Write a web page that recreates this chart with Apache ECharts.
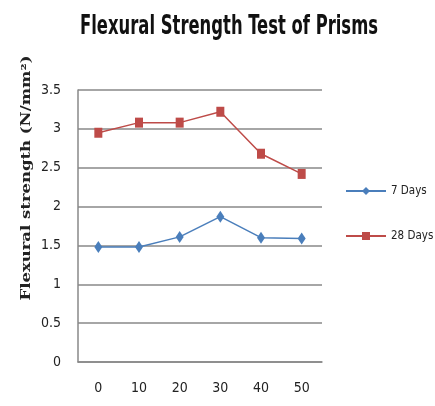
<!DOCTYPE html>
<html><head><meta charset="utf-8">
<script src="https://cdn.jsdelivr.net/npm/echarts@6/dist/echarts.min.js"></script>
<style>html,body{margin:0;padding:0;background:#fff}#c{width:435px;height:406px}</style>
</head><body><div id="c"></div>
<script>
const categories = ['0','10','20','30','40','50'];
const days7 = [1.48, 1.48, 1.61, 1.87, 1.60, 1.59];
const days28 = [2.95, 3.08, 3.08, 3.22, 2.68, 2.42];
const seriesNames = ['7 Days','28 Days'];
const titleText = 'Flexural Strength Test of Prisms';
const yAxisTitle = 'Flexural strength (N/mm²)';

const narrow = '"DejaVu Sans Condensed", "Liberation Sans Narrow", sans-serif';
const titleFont = 'bold 26px "DejaVu Sans Condensed", "Liberation Sans Narrow", sans-serif';
const yTitleFont = 'bold 12px "DejaVu Serif", serif';
const ctx = document.createElement('canvas').getContext('2d');
function w(font, txt){ ctx.font = font; return ctx.measureText(txt).width; }
const titleScale = 298 / w(titleFont, titleText);
const yTitleScale = 245 / w(yTitleFont, yAxisTitle);

const chart = echarts.init(document.getElementById('c'));
chart.setOption({
  animation: false,
  graphic: [{
    type: 'text', x: 229, y: 27, scaleX: titleScale, scaleY: 1,
    style: {text: titleText, font: titleFont, fill: '#111', textAlign: 'center', textVerticalAlign: 'middle'}
  },{
    type: 'text', x: 27, y: 178, rotation: Math.PI/2, scaleX: yTitleScale,
    style: {text: yAxisTitle, font: yTitleFont, fill: '#222', textAlign: 'center', textVerticalAlign: 'middle'}
  }],
  legend: {
    orient: 'vertical', left: 345, top: 185, itemGap: 33, padding: 0,
    itemWidth: 40, itemHeight: 10,
    textStyle: {fontFamily: narrow, fontSize: 11.5, color: '#222'},
    data: seriesNames
  },
  grid: {left: 78, right: 113, top: 90, bottom: 44},
  xAxis: {
    type: 'category', data: categories, boundaryGap: true,
    axisLine: {lineStyle: {color: '#888', width: 1.5}},
    axisTick: {show: false},
    axisLabel: {margin: 19, fontFamily: narrow, fontSize: 14, color: '#222'}
  },
  yAxis: {
    type: 'value', min: 0, max: 3.5, interval: 0.5,
    axisLine: {show: true, lineStyle: {color: '#888', width: 1.5}},
    axisTick: {show: false},
    splitLine: {lineStyle: {color: '#888', width: 1.5}},
    axisLabel: {margin: 17, fontFamily: narrow, fontSize: 14, color: '#222'}
  },
  series: [
    {name: seriesNames[0], type: 'line', data: days7, symbol: 'diamond', symbolSize: [8, 12],
     itemStyle: {color: '#4a7ebb'}, lineStyle: {color: '#4a7ebb', width: 1.5}},
    {name: seriesNames[1], type: 'line', data: days28, symbol: 'rect', symbolSize: [8, 10],
     itemStyle: {color: '#be4b48'}, lineStyle: {color: '#be4b48', width: 1.5}}
  ]
});
</script></body></html>
